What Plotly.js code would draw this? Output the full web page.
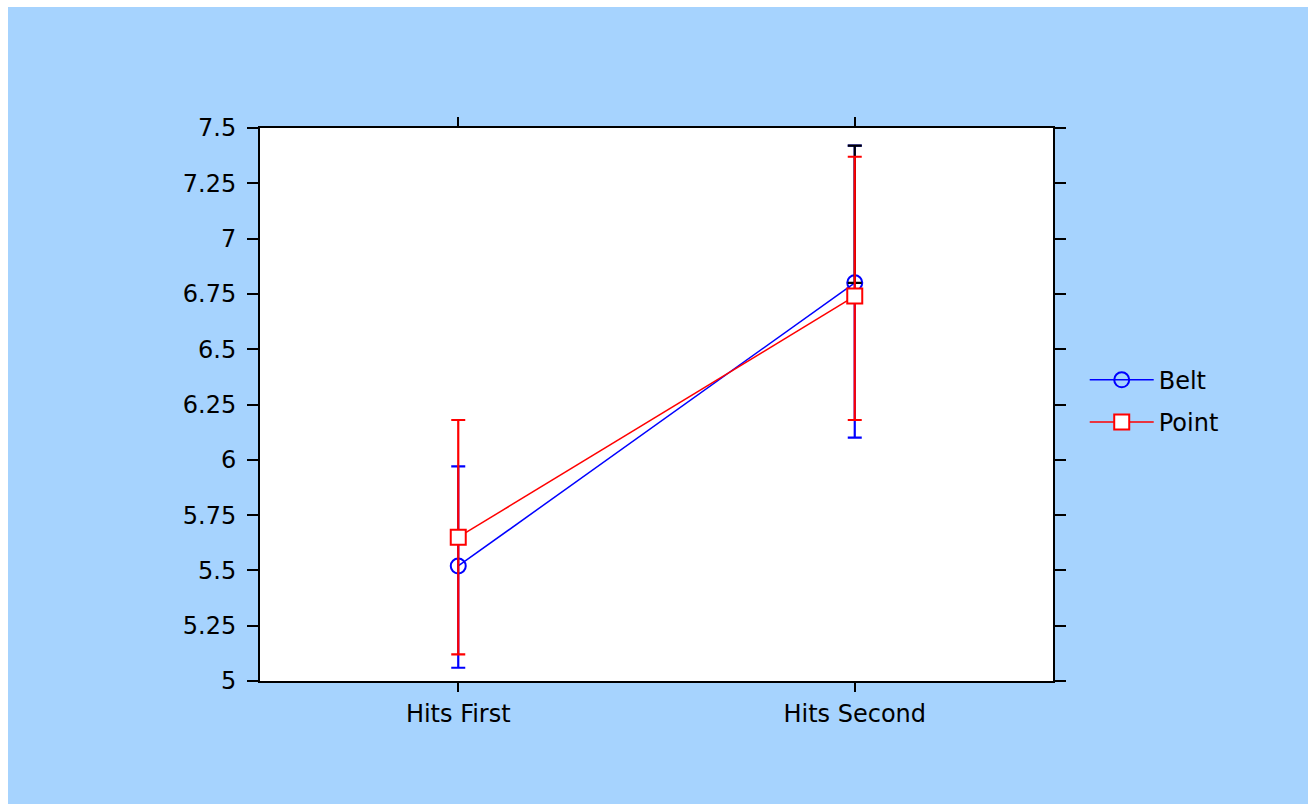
<!DOCTYPE html>
<html>
<head>
<meta charset="utf-8">
<script src="https://cdn.plot.ly/plotly-3.0.1.min.js"></script>
<style>
  html, body { margin: 0; padding: 0; background: #ffffff; }
  #chart { position: absolute; left: 8px; top: 7px; width: 1300px; height: 797px; }
</style>
</head>
<body>
<div id="chart"></div>
<script>
const categories = ["Hits First", "Hits Second"];
const beltMean = [5.52, 6.80];
const beltLow = [5.06, 6.10];
const beltHigh = [5.97, 7.42];
const pointMean = [5.65, 6.74];
const pointLow = [5.12, 6.18];
const pointHigh = [6.18, 7.37];
const yTickVals = [5, 5.25, 5.5, 5.75, 6, 6.25, 6.5, 6.75, 7, 7.25, 7.5];
const yTickText = ["5", "5.25", "5.5", "5.75", "6", "6.25", "6.5", "6.75", "7", "7.25", "7.5"];

const diffUp = (hi, m) => hi.map((v, i) => v - m[i]);
const diffDown = (lo, m) => lo.map((v, i) => m[i] - v);

const belt = {
  name: "Belt", legendgroup: "belt", x: categories, y: beltMean, type: "scatter", mode: "lines+markers",
  line: { color: "#0000ff", width: 1.5 },
  marker: { symbol: "circle-open", size: 15, color: "#0000ff", line: { width: 2, color: "#0000ff" } },
  error_y: { type: "data", symmetric: false, array: diffUp(beltHigh, beltMean), arrayminus: diffDown(beltLow, beltMean),
             color: "#0000ff", thickness: 2.2, width: 7 }
};
// black upper cap on the second Belt bar
const beltCap = {
  name: "", legendgroup: "belt", showlegend: false, hoverinfo: "skip",
  x: [categories[1]], y: [beltMean[1]], type: "scatter", mode: "markers",
  marker: { size: 1, opacity: 0 },
  error_y: { type: "data", symmetric: false, array: [beltHigh[1] - beltMean[1]], arrayminus: [0],
             color: "#000000", thickness: 2.2, width: 7 }
};
const point = {
  name: "Point", legendgroup: "point", x: categories, y: pointMean, type: "scatter", mode: "lines+markers",
  line: { color: "#ff0000", width: 1.5 },
  marker: { symbol: "square", size: 15, color: "#ffffff", line: { width: 2, color: "#ff0000" } },
  error_y: { type: "data", symmetric: false, array: diffUp(pointHigh, pointMean), arrayminus: diffDown(pointLow, pointMean),
             color: "#ff0000", thickness: 2.2, width: 7 }
};

const font = { family: "DejaVu Sans, Verdana, sans-serif", size: 24, color: "#000000" };

const layout = {
  width: 1300, height: 797,
  paper_bgcolor: "#a6d3fe", plot_bgcolor: "#ffffff",
  margin: { l: 252, r: 255, t: 121, b: 123 },
  font: font,
  showlegend: true,
  legend: { x: 1.04, xanchor: "left", y: 0.506, yanchor: "middle", bgcolor: "rgba(0,0,0,0)",
            font: font, itemwidth: 64, traceorder: "grouped", tracegroupgap: 8 },
  xaxis: {
    type: "category", range: [-0.5, 1.5],
    showline: true, linecolor: "#000000", linewidth: 2, mirror: "ticks",
    ticks: "outside", ticklen: 9, tickwidth: 2, tickcolor: "#000000",
    showgrid: false, zeroline: false, tickfont: font, ticklabelstandoff: 1
  },
  yaxis: {
    range: [5, 7.5], tickvals: yTickVals, ticktext: yTickText,
    showline: true, linecolor: "#000000", linewidth: 2, mirror: "ticks",
    ticks: "outside", ticklen: 11, tickwidth: 2, tickcolor: "#000000",
    showgrid: false, zeroline: false, tickfont: font, ticklabelstandoff: 6
  }
};

Plotly.newPlot("chart", [belt, beltCap, point], layout, { displayModeBar: false, staticPlot: true });
</script>
</body>
</html>
